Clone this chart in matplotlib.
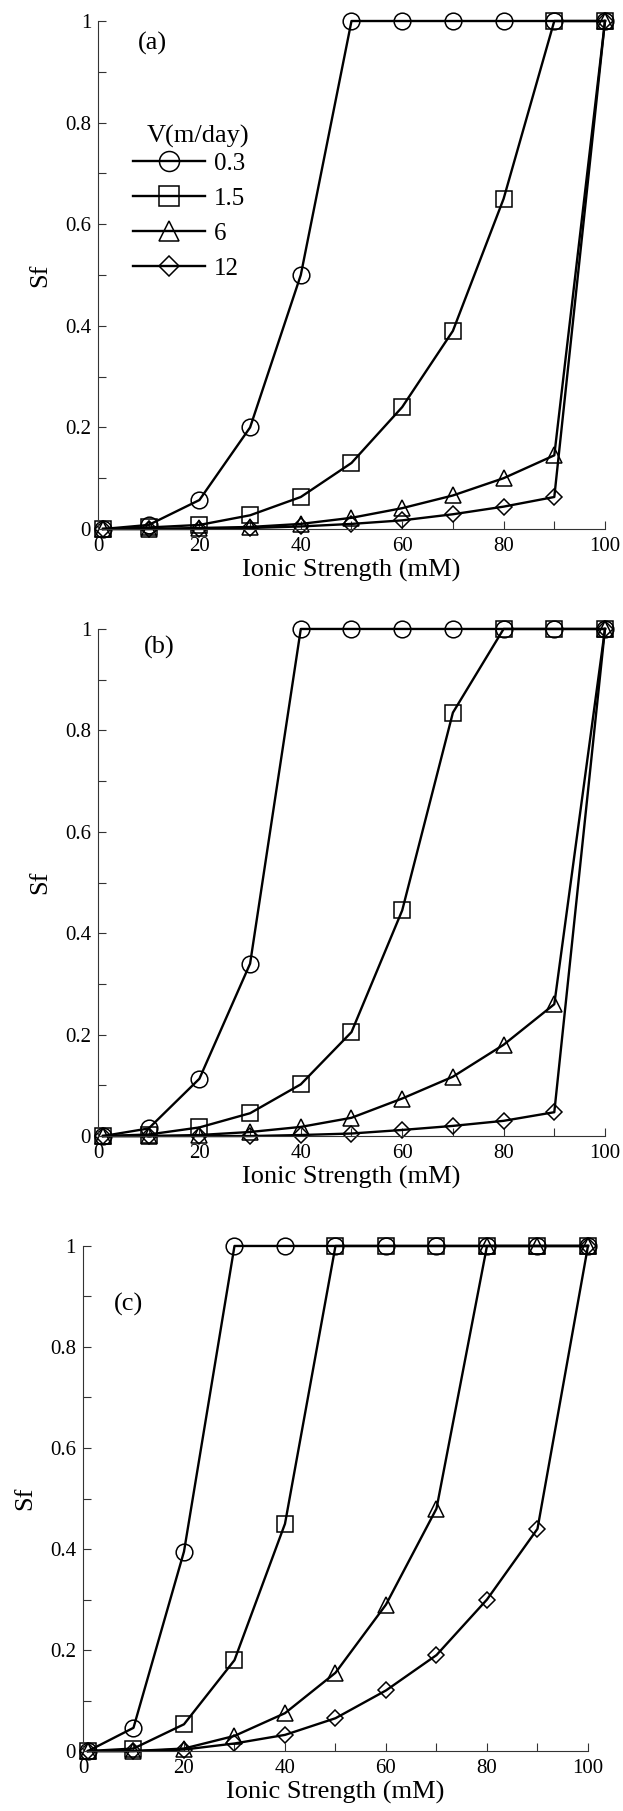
import numpy as np
import matplotlib
matplotlib.use('Agg')
import matplotlib.pyplot as plt
from matplotlib.ticker import MultipleLocator, FormatStrFormatter

plt.rcParams['font.family'] = ['Liberation Serif', 'DejaVu Serif']

# ionic strength (mM) at which each run was made
ionic = [1, 10, 20, 30, 40, 50, 60, 70, 80, 90, 100]
velocities = ['0.3', '1.5', '6', '12']

# Sf for each velocity, panel (a)
sf_a_03 = [0, 0.008, 0.057, 0.20, 0.50, 1, 1, 1, 1, 1, 1]
sf_a_15 = [0, 0.003, 0.008, 0.027, 0.063, 0.13, 0.24, 0.39, 0.65, 1, 1]
sf_a_6 = [0, 0.0, 0.002, 0.004, 0.010, 0.022, 0.041, 0.066, 0.100, 0.145, 1]
sf_a_12 = [0, 0.0, 0.0, 0.002, 0.005, 0.010, 0.017, 0.029, 0.044, 0.063, 1]

# panel (b)
sf_b_03 = [0, 0.015, 0.113, 0.34, 1, 1, 1, 1, 1, 1, 1]
sf_b_15 = [0, 0.003, 0.017, 0.045, 0.102, 0.205, 0.445, 0.835, 1, 1, 1]
sf_b_6 = [0, 0.0, 0.002, 0.008, 0.018, 0.036, 0.074, 0.117, 0.180, 0.260, 1]
sf_b_12 = [0, 0.0, 0.0, 0.0, 0.002, 0.005, 0.012, 0.020, 0.030, 0.047, 1]

# panel (c)
sf_c_03 = [0, 0.046, 0.395, 1, 1, 1, 1, 1, 1, 1, 1]
sf_c_15 = [0, 0.005, 0.053, 0.18, 0.45, 1, 1, 1, 1, 1, 1]
sf_c_6 = [0, 0.0, 0.005, 0.030, 0.075, 0.155, 0.29, 0.48, 1, 1, 1]
sf_c_12 = [0, 0.0, 0.003, 0.015, 0.032, 0.065, 0.12, 0.19, 0.30, 0.44, 1]

panels = [
    ('(a)', [sf_a_03, sf_a_15, sf_a_6, sf_a_12]),
    ('(b)', [sf_b_03, sf_b_15, sf_b_6, sf_b_12]),
    ('(c)', [sf_c_03, sf_c_15, sf_c_6, sf_c_12]),
]

markers = ['o', 's', '^', 'D']
msizes = [12, 12, 12, 8.5]

# axes rectangles in figure fraction
rects = [
    [0.1573, 0.7079, 0.8138, 0.2805],
    [0.1573, 0.3727, 0.8138, 0.2800],
    [0.1332, 0.0331, 0.8106, 0.2789],
]
tag_pos = [(0.108, 0.955), (0.12, 0.963), (0.091, 0.885)]

fig = plt.figure(figsize=(6.23, 18.11), dpi=100)

for i, (tag, series) in enumerate(panels):
    ax = fig.add_axes(rects[i])
    for sf, m, ms, v in zip(series, markers, msizes, velocities):
        ax.plot(ionic, sf, color='black', lw=1.7, marker=m, ms=ms,
                mfc='none', mec='black', mew=1.1, clip_on=False, label=v)

    ax.set_xlim(0, 100)
    ax.set_ylim(0, 1)
    ax.spines['top'].set_visible(False)
    ax.spines['right'].set_visible(False)
    for s in ('left', 'bottom'):
        ax.spines[s].set_linewidth(0.8)
        ax.spines[s].set_color('#333333')

    ax.xaxis.set_major_locator(MultipleLocator(20))
    ax.xaxis.set_minor_locator(MultipleLocator(10))
    ax.yaxis.set_major_locator(MultipleLocator(0.2))
    ax.yaxis.set_minor_locator(MultipleLocator(0.1))
    ax.yaxis.set_major_formatter(FormatStrFormatter('%g'))
    ax.tick_params(which='both', direction='in', length=5.5, width=0.8,
                   color='#333333', labelsize=15, top=False, right=False)
    ax.tick_params(axis='x', pad=6)
    ax.tick_params(axis='y', pad=5)

    ax.set_xlabel('Ionic Strength (mM)', fontsize=19, labelpad=2)
    ax.set_ylabel('Sf', fontsize=19, labelpad=10)
    ax.text(tag_pos[i][0], tag_pos[i][1], tag, transform=ax.transAxes,
            fontsize=19, ha='center', va='center')

    if i == 0:
        # legend title drawn separately so its gap to the rows can be set
        ax.text(0.198, 0.773, 'V(m/day)', transform=ax.transAxes,
                fontsize=19, ha='center', va='center')
        ax.legend(loc='upper left', bbox_to_anchor=(0.069, 0.741),
                  frameon=False, fontsize=18, handlelength=2.9,
                  handletextpad=0.35, labelspacing=0.5,
                  borderpad=0, borderaxespad=0, markerscale=1.2)

fig.savefig('out.png', dpi=100)
